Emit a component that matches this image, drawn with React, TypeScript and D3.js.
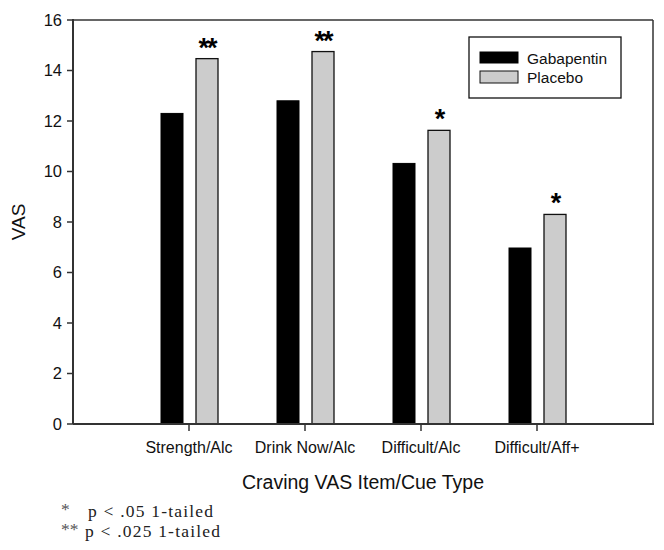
import React from "react";
import * as d3 from "d3";

const categories = ["Strength/Alc", "Drink Now/Alc", "Difficult/Alc", "Difficult/Aff+"];
const gabapentin = [12.3, 12.8, 10.32, 6.97];
const placebo = [14.47, 14.75, 11.63, 8.3];
const stars = ["**", "**", "*", "*"];
const yTicks = [0, 2, 4, 6, 8, 10, 12, 14, 16];
const footnotes = [
  { mark: "*", text: "p < .05 1-tailed" },
  { mark: "**", text: "p < .025 1-tailed" },
];

const W = 664;
const H = 550;
const left = 73;
const right = 653;
const top = 20;
const bottom = 424;

const App = () => {
  // === Scales ===
  const x = d3.scaleLinear().domain([-1, 4]).range([left, right]);
  const y = d3.scaleLinear().domain([0, 16]).range([bottom, top]);
  const barW = 22;
  const sans = "Arial, 'Liberation Sans', sans-serif";
  const serif = "'Times New Roman', 'Liberation Serif', serif";

  return (
    <svg
      width={W}
      height={H}
      style={{ position: "absolute", left: 0, top: 0, background: "#fff" }}
      fontFamily={sans}
    >
      {/* frame */}
      <line x1={left} x2={right} y1={top} y2={top} stroke="#333" strokeWidth={1.5} />
      <line x1={right} x2={right} y1={top} y2={bottom} stroke="#333" strokeWidth={1.5} />

      {/* bars */}
      {categories.map((c, i) => (
        <g key={c}>
          <rect
            x={x(i) - 28}
            y={y(gabapentin[i])}
            width={barW}
            height={y(0) - y(gabapentin[i])}
            fill="#000"
            stroke="#000"
            strokeWidth={1}
          />
          <rect
            x={x(i) + 7}
            y={y(placebo[i])}
            width={barW}
            height={y(0) - y(placebo[i])}
            fill="#cccccc"
            stroke="#111"
            strokeWidth={1.3}
          />
          <text
            x={x(i) + 7 + barW / 2}
            y={y(placebo[i]) - 2}
            textAnchor="middle"
            fontSize={27}
            fontWeight="bold"
            letterSpacing={-2}
          >
            {stars[i]}
          </text>
        </g>
      ))}

      {/* y axis */}
      <line x1={left} x2={left} y1={top - 1} y2={bottom} stroke="#333" strokeWidth={2} />
      {yTicks.map((t) => (
        <g key={t}>
          <line x1={left - 6} x2={left} y1={y(t)} y2={y(t)} stroke="#333" strokeWidth={1.5} />
          <text x={left - 11} y={y(t)} dy="0.36em" textAnchor="end" fontSize={16.5} fill="#111">
            {t}
          </text>
        </g>
      ))}
      <text
        transform={`translate(25,222) rotate(-90)`}
        textAnchor="middle"
        fontSize={19}
        fill="#111"
      >
        VAS
      </text>

      {/* x axis */}
      <line x1={left} x2={right + 1} y1={bottom} y2={bottom} stroke="#333" strokeWidth={2} />
      {categories.map((c, i) => (
        <g key={c}>
          <line x1={x(i)} x2={x(i)} y1={bottom} y2={bottom + 7} stroke="#333" strokeWidth={1.5} />
          <text x={x(i)} y={453} textAnchor="middle" fontSize={16} fill="#111">
            {c}
          </text>
        </g>
      ))}
      <text x={363} y={489} textAnchor="middle" fontSize={19.5} fill="#111">
        Craving VAS Item/Cue Type
      </text>

      {/* legend */}
      <rect x={469} y={37} width={152} height={61} fill="#fff" stroke="#111" strokeWidth={1.3} />
      <rect x={480} y={52} width={38} height={11} fill="#000" stroke="#000" />
      <rect x={480} y={71} width={38} height={12} fill="#cccccc" stroke="#111" />
      <text x={527} y={58} dy="0.36em" fontSize={15.5} fill="#111">Gabapentin</text>
      <text x={527} y={77} dy="0.36em" fontSize={15.5} fill="#111">Placebo</text>

      {/* footnotes */}
      {footnotes.map((f, i) => (
        <g key={f.text} fontFamily={serif} fontSize={17.5} fill="#222">
          <text x={61} y={515 + i * 20} fill="#555">{f.mark}</text>
          <text x={i === 0 ? 88 : 85} y={517 + i * 20} letterSpacing={1.2}>
            {f.text}
          </text>
        </g>
      ))}
    </svg>
  );
};

export default App;
